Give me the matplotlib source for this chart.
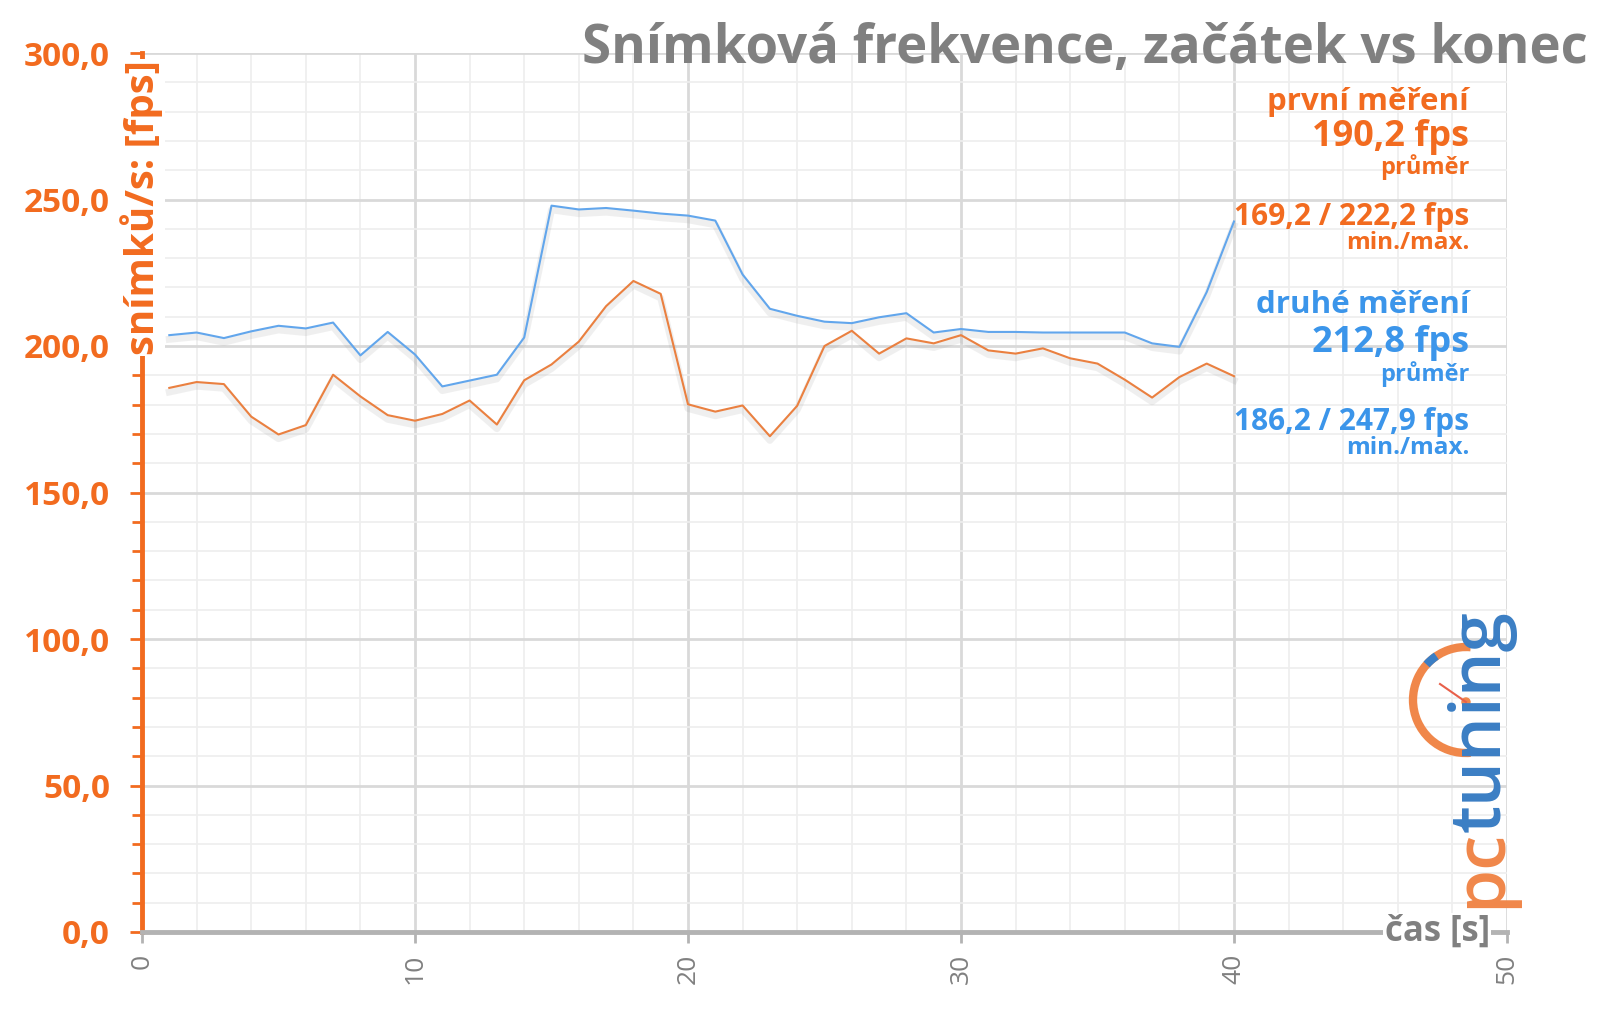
import matplotlib
matplotlib.use("Agg")
import matplotlib.pyplot as plt
import matplotlib.patheffects as pe
from matplotlib.ticker import MultipleLocator, FuncFormatter
from matplotlib.patches import Arc, Circle

plt.rcParams['font.family'] = ['Open Sans', 'DejaVu Sans']

# data
seconds = list(range(1, 41))
prvni = [185.7, 187.7, 187.0, 175.9, 169.8, 173.0, 190.2, 182.8, 176.4, 174.5,
         176.8, 181.4, 173.2, 188.3, 193.7, 201.5, 213.6, 222.2, 217.8, 180.1,
         177.6, 179.7, 169.2, 179.6, 200.0, 205.2, 197.4, 202.6, 200.9, 203.7,
         198.5, 197.4, 199.2, 195.8, 194.0, 188.5, 182.4, 189.4, 194.0, 189.7]
druhe = [203.7, 204.6, 202.7, 205.0, 206.9, 206.0, 208.0, 196.8, 204.8, 197.1,
         186.2, 188.2, 190.2, 202.9, 247.9, 246.6, 247.1, 246.2, 245.2, 244.5,
         242.8, 224.4, 212.7, 210.3, 208.3, 207.8, 209.8, 211.2, 204.6, 205.8,
         204.8, 204.8, 204.6, 204.6, 204.6, 204.6, 200.9, 199.7, 218.4, 242.5]

title = "Snímková frekvence, začátek vs konec"
ylabel = "snímků/s: [fps]"
xlabel = "čas [s]"
prvni_stats = ["první měření", "190,2 fps", "průměr", "169,2 / 222,2 fps", "min./max."]
druhe_stats = ["druhé měření", "212,8 fps", "průměr", "186,2 / 247,9 fps", "min./max."]

ORANGE_TXT = "#f26b1f"
BLUE_TXT = "#3b95ea"
ORANGE_LINE = "#ea8040"
BLUE_LINE = "#62a6ec"
GREY = "#808080"

fig = plt.figure(figsize=(16, 10.15), dpi=100)
ax = fig.add_axes([142 / 1600, 1 - 932 / 1015, 1365 / 1600, 879 / 1015])

shadow = [pe.SimpleLineShadow(offset=(0, -3), shadow_color="#999999", alpha=0.15, linewidth=5), pe.Normal()]
ax.plot(seconds, druhe, color=BLUE_LINE, lw=1.5, zorder=3, path_effects=shadow)
ax.plot(seconds, prvni, color=ORANGE_LINE, lw=1.5, zorder=3, path_effects=shadow)

ax.set_xlim(0, 50)
ax.set_ylim(0, 300)
ax.xaxis.set_major_locator(MultipleLocator(10))
ax.xaxis.set_minor_locator(MultipleLocator(2))
ax.yaxis.set_major_locator(MultipleLocator(50))
ax.yaxis.set_minor_locator(MultipleLocator(10))
ax.yaxis.set_major_formatter(FuncFormatter(lambda v, p: f"{v:.1f}".replace(".", ",")))

ax.grid(which="minor", color="#eeeeee", lw=1.2)
ax.grid(which="major", color="#d9d9d9", lw=2)
ax.set_axisbelow(True)

for s in ("top", "right"):
    ax.spines[s].set_visible(False)
ax.spines["left"].set_color(ORANGE_TXT)
ax.spines["left"].set_linewidth(3.5)
ax.spines["bottom"].set_color("#b3b3b3")
ax.spines["bottom"].set_linewidth(3.5)

ax.tick_params(axis="y", which="both", colors=ORANGE_TXT, length=9, width=2, pad=14,
               labelsize=24)
ax.tick_params(axis="y", which="minor", length=7)
ax.tick_params(axis="x", which="major", colors="#b3b3b3", length=8, width=2, pad=8,
               labelsize=19, labelcolor=GREY, labelrotation=90)
ax.tick_params(axis="x", which="minor", length=0)
for t in ax.get_yticklabels():
    t.set_fontweight("bold")

ax.text(0, 0.824, ylabel, transform=ax.transAxes, rotation=90, ha="center", va="center",
        color=ORANGE_TXT, fontsize=29, fontweight="bold", zorder=6, clip_on=False,
        bbox=dict(facecolor="white", edgecolor="none", pad=1))
ax.text(0.949, 0, xlabel, transform=ax.transAxes, ha="center", va="center",
        color=GREY, fontsize=25, fontweight="bold", zorder=6, clip_on=False,
        bbox=dict(facecolor="white", edgecolor="none", pad=1))

# overlay in pixel coordinates for title, stats and logo
ov = fig.add_axes([0, 0, 1, 1], zorder=10)
ov.set_xlim(0, 1600)
ov.set_ylim(1015, 0)
ov.axis("off")

ov.text(1588, 49, title, ha="right", va="center", color=GREY, fontsize=38, fontweight="bold")

sizes = [22.5, 26, 17, 21.5, 17.5]
ys_o = [102, 137, 167, 217, 243]
ys_b = [305, 343, 374, 422, 448]
for txt, fs, y in zip(prvni_stats, sizes, ys_o):
    ov.text(1469, y, txt, ha="right", va="center", color=ORANGE_TXT, fontsize=fs, fontweight="bold")
for txt, fs, y in zip(druhe_stats, sizes, ys_b):
    ov.text(1469, y, txt, ha="right", va="center", color=BLUE_TXT, fontsize=fs, fontweight="bold")

# pctuning logo
ov.text(1482, 908, "pc", rotation=90, ha="center", va="bottom", color="#f0874a",
        fontsize=51, fontweight="semibold")
ov.text(1482, 832, "tuning", rotation=90, ha="center", va="bottom", color="#3b7ec4",
        fontsize=51, fontweight="semibold")
ov.add_patch(Arc((1466, 700), 106, 106, theta1=85, theta2=275, color="#f0874a", lw=6))
ov.add_patch(Arc((1466, 700), 106, 106, theta1=222, theta2=236, color="#3b7ec4", lw=6))
ov.plot([1440, 1466], [684, 702], color="#e8604a", lw=1.5)
ov.add_patch(Circle((1466, 702), 4, color="#f0874a"))

fig.savefig("out.png", dpi=100)
